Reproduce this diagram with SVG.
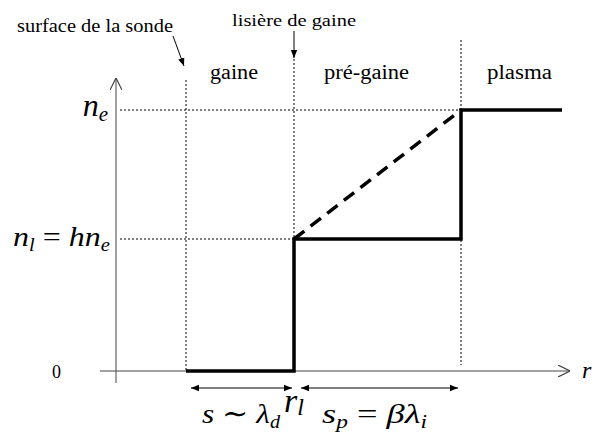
<svg xmlns="http://www.w3.org/2000/svg" width="595" height="438" viewBox="0 0 595 438">
<style>
.t{fill:#000}
.m{font-style:italic;fill:#000}
.dot{stroke:#000;stroke-width:1;stroke-dasharray:2 2;fill:none}
.ax{stroke:#444;stroke-width:1;fill:none}
.thick{stroke:#000;stroke-width:3.5;fill:none}
.thin{stroke:#000;stroke-width:1;fill:none}
</style>
<defs>
<marker id="ah" viewBox="0 0 10 10" refX="10" refY="5" markerWidth="8" markerHeight="8" markerUnits="userSpaceOnUse" orient="auto-start-reverse"><path d="M0,1 L10,5 L0,9 Z" fill="#000"/></marker>
<marker id="open" viewBox="0 0 10 10" refX="10" refY="5" markerWidth="12" markerHeight="12" markerUnits="userSpaceOnUse" orient="auto"><path d="M0,0 L10,5 L0,10" fill="none" stroke="#444" stroke-width="1"/></marker>
</defs>
<g id="axes">
<line class="ax" x1="116" y1="383" x2="116" y2="78" marker-end="url(#open)"/>
<line class="ax" x1="100" y1="371" x2="570" y2="371" marker-end="url(#open)"/>
</g>
<g id="guides">
<line class="dot" x1="186" y1="80" x2="186" y2="371"/>
<line class="dot" x1="294" y1="55" x2="294" y2="371"/>
<line class="dot" x1="461" y1="40" x2="461" y2="365"/>
<line class="dot" x1="120" y1="110" x2="461" y2="110"/>
<line class="dot" x1="120" y1="239" x2="294" y2="239"/>
</g>
<g id="curve">
<polyline class="thick" points="186,371 294,371 294,239 461,239 461,110 562,110"/>
<line class="thick" x1="294" y1="239" x2="461" y2="110" stroke-dasharray="13 8"/>
</g>
<g id="connectors">
<line class="thin" x1="173" y1="36" x2="184" y2="66" marker-end="url(#ah)"/>
<line class="thin" x1="294" y1="31" x2="294" y2="58" marker-end="url(#ah)"/>
<line class="thin" x1="191" y1="388" x2="292" y2="388" marker-start="url(#ah)" marker-end="url(#ah)"/>
<line class="thin" x1="301" y1="388" x2="458" y2="388" marker-start="url(#ah)" marker-end="url(#ah)"/>
</g>
<g id="labels" font-family="'Liberation Serif', 'DejaVu Serif', 'Times New Roman', serif">
<text class="t" x="17" y="32" font-size="18" textLength="156" lengthAdjust="spacingAndGlyphs">surface de la sonde</text>
<text class="t" x="232" y="26" font-size="17" textLength="124" lengthAdjust="spacingAndGlyphs">lisière de gaine</text>
<text class="t" x="210" y="79" font-size="20" textLength="48" lengthAdjust="spacingAndGlyphs">gaine</text>
<text class="t" x="324" y="79" font-size="20" textLength="85" lengthAdjust="spacingAndGlyphs">pré-gaine</text>
<text class="t" x="487" y="79" font-size="20" textLength="65" lengthAdjust="spacingAndGlyphs">plasma</text>
<text class="m" x="108" y="116" font-size="32" text-anchor="end">n<tspan font-size="21" dy="5">e</tspan></text>
<text class="m" x="13" y="246" font-size="28" textLength="97" lengthAdjust="spacingAndGlyphs">n<tspan font-size="18" dy="5">l</tspan><tspan dy="-5" font-style="normal"> = </tspan>hn<tspan font-size="18" dy="5">e</tspan></text>
<text class="t" x="52" y="378" font-size="18">0</text>
<text class="m" x="582" y="378" font-size="24">r</text>
<text class="m" x="202" y="423" font-size="28" textLength="78" lengthAdjust="spacingAndGlyphs">s<tspan font-style="normal"> ∼ </tspan>λ<tspan font-size="18" dy="5">d</tspan></text>
<text class="m" x="284" y="412" font-size="34">r<tspan font-size="24" dy="3">l</tspan></text>
<text class="m" x="322" y="423" font-size="28" textLength="105" lengthAdjust="spacingAndGlyphs">s<tspan font-size="18" dy="5">p</tspan><tspan dy="-5" font-style="normal"> = </tspan>βλ<tspan font-size="18" dy="5">i</tspan></text>
</g>
</svg>
